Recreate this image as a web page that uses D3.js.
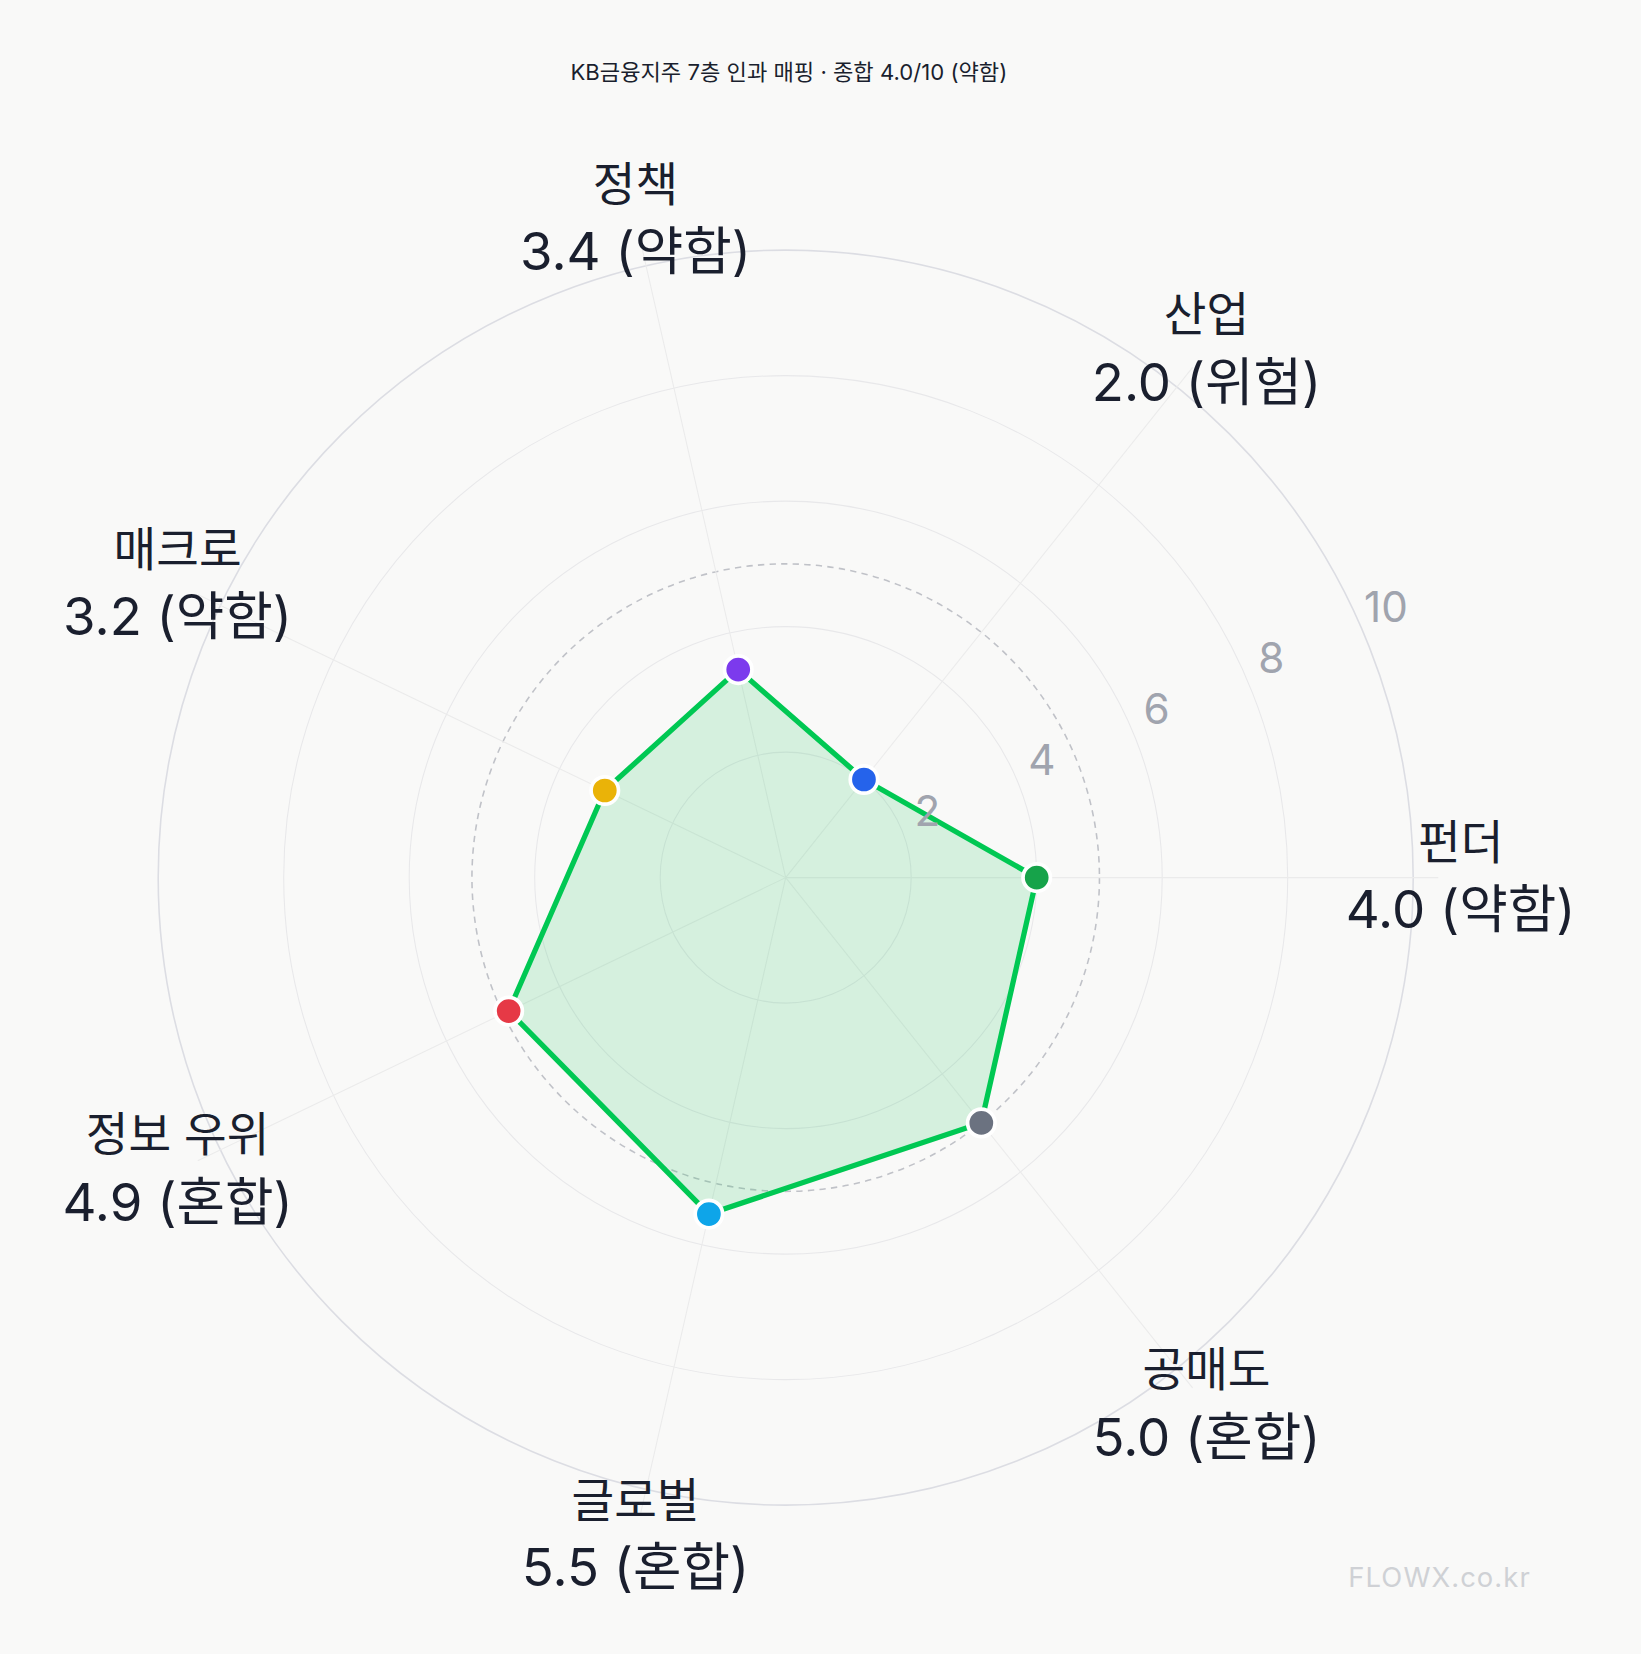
<!DOCTYPE html>
<html><head><meta charset="utf-8">
<script src="https://cdn.jsdelivr.net/npm/d3@7"></script>
<style>html,body{margin:0;padding:0;background:#f9f9f8;}svg{display:block;font-family:Inter,"Noto Sans CJK KR",sans-serif;}</style>
</head><body>
<svg id="c" width="1641" height="1654" viewBox="0 0 1556 1568"></svg>
<script>
const categories = ["펀더","공매도","글로벌","정보 우위","매크로","정책","산업"];
const values = [4.0,5.0,5.5,4.9,3.2,3.4,2.0];
const grades = ["약함","혼합","혼합","혼합","약함","약함","위험"];
const pointColors = ["#16a34a","#6b7280","#0ea5e9","#e63946","#eab308","#7c3aed","#2563eb"];
const ticks = [2,4,6,8,10];
const title = "KB금융지주 7층 인과 매핑 · 종합 4.0/10 (약함)";

const svg = d3.select("#c");
svg.append("rect").attr("width",1556).attr("height",1568).attr("fill","#f9f9f8");
const cx=745, cy=832;
const r = d3.scaleLinear().domain([0,10]).range([0,595]);
const ang = d3.scaleLinear().domain([0,categories.length]).range([0,2*Math.PI]);
const g = svg.append("g").attr("transform",`translate(${cx},${cy})`);

g.selectAll("circle.grid").data(ticks).join("circle").attr("r",d=>r(d))
 .attr("fill","none").attr("stroke",d=>d===10?"#dcdde3":"#e8e8ea").attr("stroke-width",d=>d===10?1.5:1);
g.append("circle").attr("r",r(5)).attr("fill","none").attr("stroke","#c0c2c8").attr("stroke-width",1.5).attr("stroke-dasharray","6,5");

categories.forEach((c,i)=>{
  const a=ang(i);
  g.append("line").attr("x1",0).attr("y1",0).attr("x2",Math.cos(a)*r(10.4)).attr("y2",Math.sin(a)*r(10.4))
   .attr("stroke","#ebebeb").attr("stroke-width",1);
});

const pts = values.map((v,i)=>[Math.cos(ang(i))*r(v), Math.sin(ang(i))*r(v)]);
g.append("path").attr("d",d3.line().curve(d3.curveLinearClosed)(pts))
 .attr("fill","rgba(34,197,94,0.17)").attr("stroke","#00c853").attr("stroke-width",5).attr("stroke-linejoin","round");

const ta=-24*Math.PI/180;
g.selectAll("text.tick").data(ticks).join("text")
 .attr("x",d=>Math.cos(ta)*(r(d)+28)).attr("y",d=>Math.sin(ta)*(r(d)+28))
 .attr("text-anchor","middle").attr("dominant-baseline","middle")
 .attr("fill","#a0a4ae").attr("font-size",40).text(d=>d);

g.selectAll("circle.pt").data(pts).join("circle").attr("cx",d=>d[0]).attr("cy",d=>d[1]).attr("r",13)
 .attr("fill",(d,i)=>pointColors[i]).attr("stroke","#fff").attr("stroke-width",3.5);

categories.forEach((c,i)=>{
  const a=ang(i), R=640;
  const x=Math.cos(a)*R, y=Math.sin(a)*R;
  const t=g.append("text").attr("text-anchor","middle").attr("fill","#1a1f2e");
  t.append("tspan").attr("x",x).attr("y",y-18).attr("font-size",44).text(c);
  t.append("tspan").attr("x",x).attr("y",y+48).attr("font-size",50).text(values[i].toFixed(1)+" ("+grades[i]+")");
});

svg.append("text").attr("x",748).attr("y",76).attr("text-anchor","middle").attr("font-size",21).attr("fill","#1a1f2e").text(title);
svg.append("text").attr("x",1365).attr("y",1505).attr("text-anchor","middle").attr("font-size",26).attr("fill","#cfd1d5").attr("letter-spacing",1).text("FLOWX.co.kr");
</script></body></html>
